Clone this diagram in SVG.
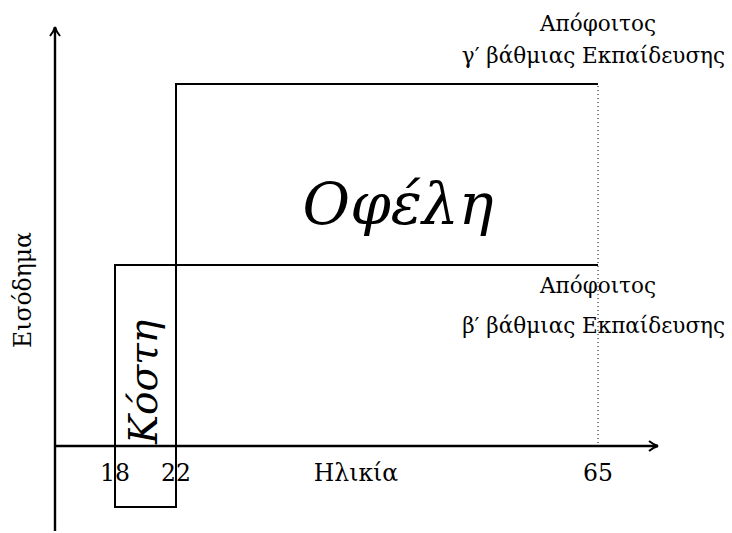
<svg xmlns="http://www.w3.org/2000/svg" width="732" height="533" viewBox="0 0 732 533">
<defs>
<marker id="arr" viewBox="0 0 12 12" refX="10" refY="6" markerWidth="12" markerHeight="12" markerUnits="userSpaceOnUse" orient="auto">
<path d="M1,1 Q6,5 10,6 Q6,7 1,11" fill="none" stroke="#000" stroke-width="2"/>
</marker>
</defs>
<style>
.ax{stroke:#000;stroke-width:2.4;fill:none}
.ln{stroke:#000;stroke-width:2;fill:none}
.dot{stroke:#000;stroke-width:1;stroke-dasharray:1 3;fill:none}
text{font-family:"DejaVu Serif","Liberation Serif",serif;fill:#000}
.lb{font-size:21.5px}
.al{font-size:23.5px}
.it{font-style:italic}
</style>
<g id="connectors">
<line class="ax" x1="55" y1="531" x2="55" y2="27" marker-end="url(#arr)"/>
<line class="ax" x1="55" y1="446" x2="658" y2="446" marker-end="url(#arr)"/>
<polyline class="ln" points="176,507 176,84 598,84"/>
<line class="ln" x1="115" y1="265" x2="598" y2="265"/>
<line class="dot" x1="598" y1="86" x2="598" y2="446"/>
</g>
<g id="costs">
<rect class="ln" x="115" y="265" width="61" height="242"/>
<text class="it" font-size="39" transform="translate(157,382) rotate(-90)" text-anchor="middle">Κόστη</text>
</g>
<g id="benefits">
<text class="it" font-size="58" x="398" y="224" text-anchor="middle">Οφέλη</text>
</g>
<g id="label-tertiary">
<text class="lb" x="598" y="31" text-anchor="middle">Απόφοιτος</text>
<text class="lb" x="725" y="63" text-anchor="end">γ′ βάθμιας Εκπαίδευσης</text>
</g>
<g id="label-secondary">
<text class="lb" x="598" y="293" text-anchor="middle">Απόφοιτος</text>
<text class="lb" x="725" y="333" text-anchor="end">β′ βάθμιας Εκπαίδευσης</text>
</g>
<g id="axis-labels">
<text class="al" transform="translate(31,290) rotate(-90)" text-anchor="middle">Εισόδημα</text>
<text class="al" x="356" y="481" text-anchor="middle">Ηλικία</text>
<text class="al" x="115" y="481" text-anchor="middle">18</text>
<text class="al" x="176" y="481" text-anchor="middle">22</text>
<text class="al" x="598" y="481" text-anchor="middle">65</text>
</g>
</svg>
